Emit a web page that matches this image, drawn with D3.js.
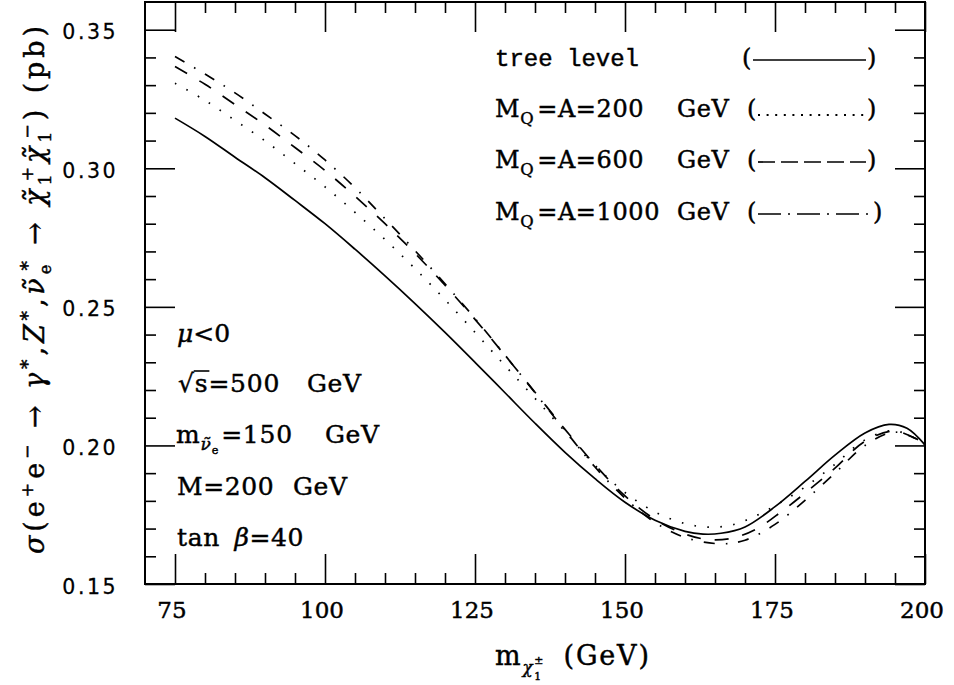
<!DOCTYPE html>
<html>
<head>
<meta charset="utf-8">
<script src="https://cdn.jsdelivr.net/npm/d3@7"></script>
<style>
  html, body { margin: 0; padding: 0; background: #fff; }
  svg { display: block; }
</style>
</head>
<body>
<svg id="chart" width="954" height="685"></svg>
<script>
// Chargino pair production cross section vs chargino mass
const treeMass  = [75,80,85,90,95,100,105,110,115,120,125,130,135,140,145,150,155,160,163,166,170,175,180,185,190,194,197,200];
const treeSigma = [0.3181,0.3115,0.3040,0.2966,0.2884,0.2800,0.2708,0.2612,0.2512,0.2408,0.2300,0.2190,0.2080,0.1975,0.1880,0.1795,0.1730,0.1690,0.1680,0.1683,0.1706,0.1779,0.1870,0.1965,0.2045,0.2076,0.2062,0.2002];

const mq200Mass  = [75,80,85,90,95,100,105,110,115,120,125,130,135,140,145,150,155,160,164,168,172,176,180,185,190,195,200];
const mq200Sigma = [0.3307,0.3245,0.3173,0.3099,0.3017,0.2933,0.2841,0.2743,0.2638,0.2526,0.2408,0.2288,0.2170,0.2050,0.1928,0.1830,0.1760,0.1718,0.1705,0.1714,0.1748,0.1795,0.1850,0.1932,0.2020,0.2053,0.2004];

const mq600Mass  = [75,80,85,90,95,100,105,110,115,120,125,130,135,140,145,150,155,160,164,168,172,176,180,185,190,195,200];
const mq600Sigma = [0.3367,0.3303,0.3230,0.3156,0.3075,0.2992,0.2899,0.2800,0.2693,0.2578,0.2455,0.2325,0.2192,0.2058,0.1930,0.1818,0.1733,0.1680,0.1660,0.1666,0.1700,0.1760,0.1828,0.1918,0.2015,0.2052,0.2005];

const mq1000Mass  = [75,80,85,90,95,100,105,110,115,120,125,130,135,140,145,150,155,160,166,170,175,180,185,190,195,200];
const mq1000Sigma = [0.3403,0.3340,0.3272,0.3196,0.3118,0.3030,0.2930,0.2818,0.2703,0.2583,0.2458,0.2326,0.2190,0.2054,0.1922,0.1810,0.1722,0.1668,0.1645,0.1658,0.1715,0.1802,0.1900,0.2000,0.2048,0.2008];

const xMajorTicks = [75,100,125,150,175,200];
const xMinorTicks = [80,85,90,95,105,110,115,120,130,135,140,145,155,160,165,170,180,185,190,195];
const yMajorTicks = [0.15,0.20,0.25,0.30,0.35];
const yMinorTicks = [0.16,0.17,0.18,0.19,0.21,0.22,0.23,0.24,0.26,0.27,0.28,0.29,0.31,0.32,0.33,0.34];

const SERIF = "'DejaVu Serif', serif";
const SANS  = "'DejaVu Sans', sans-serif";
const MONO  = "'Liberation Mono', monospace";
const INK = 0.45; // slight outline to thicken glyph strokes

const svg = d3.select("#chart");
const plotL = 145, plotR = 925, plotT = 2, plotB = 584;

const x = d3.scaleLinear().domain([70, 200]).range([plotL, plotR]);
const y = d3.scaleLinear().domain([0.15, 0.36]).range([plotB, plotT]);

// ---------- axes (ticks on all four sides, pointing inward) ----------
function tickAxis(axisFn, scale, values, len, tx, ty) {
  const g = svg.append("g").attr("transform", `translate(${tx},${ty})`)
    .call(axisFn(scale).tickValues(values).tickSize(-len).tickFormat(""));
  g.select(".domain").remove();
  g.selectAll(".tick line").attr("stroke", "#000").attr("stroke-width", 1.6);
  return g;
}
tickAxis(d3.axisBottom, x, xMajorTicks, 30, 0, plotB);
tickAxis(d3.axisBottom, x, xMinorTicks, 11, 0, plotB);
tickAxis(d3.axisTop, x, xMajorTicks, 30, 0, plotT);
tickAxis(d3.axisTop, x, xMinorTicks, 11, 0, plotT);
tickAxis(d3.axisLeft, y, yMajorTicks, 30, plotL, 0);
tickAxis(d3.axisLeft, y, yMinorTicks, 11, plotL, 0);
tickAxis(d3.axisRight, y, yMajorTicks, 30, plotR, 0);
tickAxis(d3.axisRight, y, yMinorTicks, 11, plotR, 0);

// tick labels
svg.append("g").selectAll("text").data(xMajorTicks).join("text")
  .attr("x", d => x(d) - 3).attr("y", 618)
  .attr("text-anchor", "middle")
  .attr("font-family", SERIF).attr("font-size", 23)
  .attr("stroke", "#000").attr("stroke-width", INK)
  .text(d => d);

svg.append("g").selectAll("text").data(yMajorTicks).join("text")
  .attr("x", 118).attr("y", d => y(d) + 9.5)
  .attr("text-anchor", "end")
  .attr("font-family", SANS).attr("font-size", 20.5)
  .attr("letter-spacing", 2.5)
  .attr("stroke", "#000").attr("stroke-width", INK * 0.6)
  .text(d => d3.format(".2f")(d));

// frame
svg.append("rect")
  .attr("x", plotL).attr("y", plotT)
  .attr("width", plotR - plotL).attr("height", plotB - plotT)
  .attr("fill", "none").attr("stroke", "#000").attr("stroke-width", 2);

// ---------- curves ----------
const line = d3.line()
  .x(d => x(d[0])).y(d => y(d[1]))
  .curve(d3.curveCatmullRom.alpha(0.5));

const series = [
  { m: treeMass,   s: treeSigma,   dash: null },
  { m: mq200Mass,  s: mq200Sigma,  dash: "1.6,11.4" },
  { m: mq600Mass,  s: mq600Sigma,  dash: "14,14" },
  { m: mq1000Mass, s: mq1000Sigma, dash: "11,11,1.6,11" }
];
series.forEach(sr => {
  svg.append("path")
    .datum(d3.zip(sr.m, sr.s))
    .attr("d", line)
    .attr("fill", "none")
    .attr("stroke", "#000")
    .attr("stroke-width", 1.7)
    .attr("stroke-dasharray", sr.dash);
});

// ---------- rich text helper (sub/superscripts) ----------
function rich(sel, parts, size) {
  let cur = 0, prev = null;
  parts.forEach(p => {
    const off = (p.off || 0) * size;
    const ts = sel.append("tspan").text(p.t).attr("dy", off - cur);
    if (p.sc) ts.attr("font-size", size * p.sc);
    if (p.it) ts.attr("font-style", "italic");
    let dx = p.dx || 0;
    if (p.back && prev) dx -= prev.node().getComputedTextLength();
    if (dx) ts.attr("dx", dx);
    cur = off; prev = ts;
  });
  return sel;
}
function label(x0, y0, size, family, parts, ls) {
  const t = svg.append("text").attr("x", x0).attr("y", y0)
    .attr("font-family", family).attr("font-size", size).attr("fill", "#000")
    .attr("stroke", "#000").attr("stroke-width", INK);
  if (ls) t.attr("letter-spacing", ls);
  return rich(t, parts, size);
}

// ---------- legend ----------
const legendRows = [
  { yb: 66,  dash: null },
  { yb: 117, dash: "2,6.6" },
  { yb: 168, dash: "17,6" },
  { yb: 220, dash: "23,7,2,7" }
];
const legendMQ = ["200", "600", "1000"];

label(495, 66, 24, MONO, [{ t: "tree level" }]).attr("stroke-width", 0.45);
legendMQ.forEach((v, i) => {
  const yb = legendRows[i + 1].yb;
  label(495, yb, 24, SERIF, [
    { t: "M" },
    { t: "Q", off: 0.28, sc: 0.68 },
    { t: "=A=" + v, off: 0, dx: 3 }
  ], 0.6);
  label(677, yb, 24, SERIF, [{ t: "GeV" }], 0.6);
});
legendRows.forEach((r, i) => {
  const lx0 = i === 0 ? 742 : 747;
  const rx = i === 3 ? 873 : 867;
  label(lx0, r.yb, 24, SERIF, [{ t: "(" }]);
  label(rx, r.yb, 24, SERIF, [{ t: ")" }]);
  svg.append("line")
    .attr("x1", lx0 + 11).attr("x2", rx - 1)
    .attr("y1", i === 1 ? r.yb - 2 : r.yb - 6)
    .attr("y2", i === 1 ? r.yb - 2 : r.yb - 6)
    .attr("stroke", "#000").attr("stroke-width", i === 1 ? 2 : 1.7)
    .attr("stroke-dasharray", r.dash);
});

// ---------- parameter block ----------
label(177, 342, 25, SERIF, [{ t: "μ", it: true }, { t: "<0" }]);

const sq = label(178, 392, 25, SERIF, [{ t: "√" }, { t: "s" }, { t: "=500" }], 0.8);
{
  const sNode = sq.selectAll("tspan").nodes()[1];
  const start = sNode.getStartPositionOfChar(0);
  const w = sNode.getComputedTextLength();
  svg.append("line")
    .attr("x1", start.x - 1).attr("x2", start.x + w + 1)
    .attr("y1", 371).attr("y2", 371)
    .attr("stroke", "#000").attr("stroke-width", 1.6);
}
label(307, 392, 25, SERIF, [{ t: "GeV" }], 0.6);

label(176, 443, 25, SERIF, [
  { t: "m" },
  { t: "ν\u0303", off: 0.28, sc: 0.68, it: true },
  { t: "e", off: 0.42, sc: 0.45 },
  { t: "=150", off: 0, dx: 2 }
], 0.8);
label(325, 443, 25, SERIF, [{ t: "GeV" }], 0.6);

label(177, 495, 25, SERIF, [{ t: "M=200" }], 0.6);
label(293, 495, 25, SERIF, [{ t: "GeV" }], 0.6);

label(177, 546, 25, SERIF, [{ t: "tan " }, { t: "β", it: true, dx: 6 }, { t: "=40" }], 0.6);

// ---------- axis titles ----------
label(495, 665, 27, SERIF, [
  { t: "m" },
  { t: "χ", off: 0.3, sc: 0.62, it: true },
  { t: "1", off: 0.55, sc: 0.4 },
  { t: "±", off: -0.02, sc: 0.4, back: true },
  { t: " (GeV)", off: 0, dx: 8 }
], 1.8);

const yt = svg.append("text")
  .attr("transform", "translate(44,290) rotate(-90)")
  .attr("text-anchor", "middle")
  .attr("font-family", SERIF).attr("font-size", 27).attr("fill", "#000")
  .attr("stroke", "#000").attr("stroke-width", INK);
rich(yt, [
  { t: "σ", it: true }, { t: "(e" },
  { t: "+", off: -0.42, sc: 0.65 },
  { t: "e", off: 0 },
  { t: "−", off: -0.42, sc: 0.65 },
  { t: " → " , off: 0 }, { t: "γ", it: true },
  { t: "*", off: -0.38, sc: 0.7 },
  { t: ",", off: 0 }, { t: "Z", it: true },
  { t: "*", off: -0.38, sc: 0.7 },
  { t: ",", off: 0 }, { t: "ν\u0303", it: true },
  { t: "e", off: 0.25, sc: 0.6 },
  { t: "*", off: -0.38, sc: 0.7, back: true },
  { t: " → ", off: 0 }, { t: "χ\u0303", it: true },
  { t: "1", off: 0.25, sc: 0.65 },
  { t: "+", off: -0.42, sc: 0.65, back: true },
  { t: "χ\u0303", off: 0, it: true },
  { t: "1", off: 0.25, sc: 0.65 },
  { t: "−", off: -0.42, sc: 0.65, back: true },
  { t: ")  (pb)", off: 0 }
], 27);
yt.attr("textLength", 528).attr("lengthAdjust", "spacing");
</script>
</body>
</html>
